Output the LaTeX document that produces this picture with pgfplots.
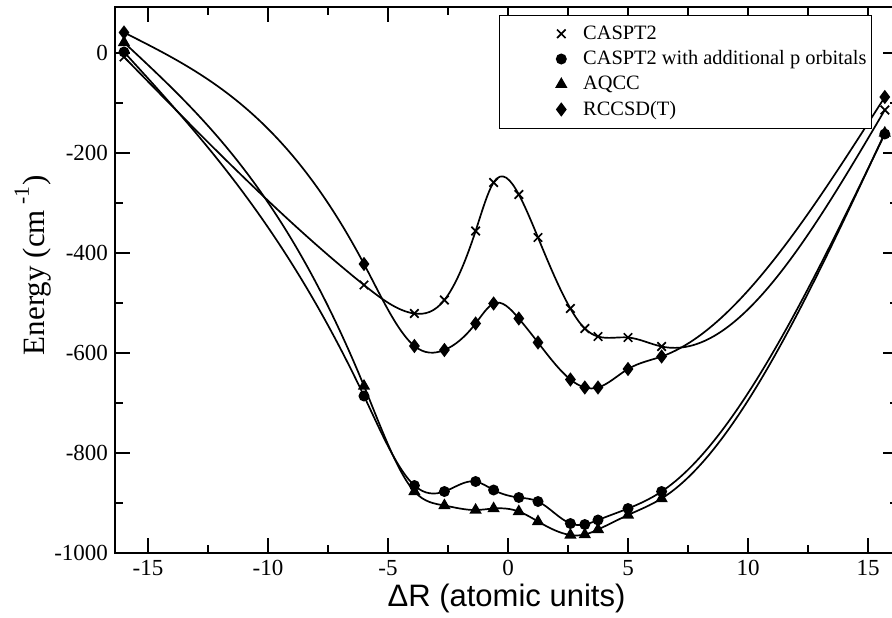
\documentclass[border=0pt]{standalone}
\usepackage{fontspec}
\setmainfont{Liberation Serif}
\newfontfamily\labelsans{Liberation Sans}
\usepackage{pgfplots}
\pgfplotsset{compat=1.18}

% natural cubic spline through the plotted points (like the original spline curves)
\makeatletter
\newcount\nsp@n \newcount\nsp@i \newcount\nsp@im \newcount\nsp@ip \newcount\nsp@last
\def\nsp@v#1#2{\csname nsp@#1@\number#2\endcsname}
\def\nsp@set#1#2#3{\expandafter\xdef\csname nsp@#1@\number#2\endcsname{#3}}
\def\pgfplothandlernatspline{%
  \def\pgf@plotstreamstart{%
    \global\nsp@n=0\relax
    \global\let\pgf@plotstreampoint=\nsp@point
    \global\let\pgf@plotstreamspecial=\pgfutil@gobble
    \global\let\pgf@plotstreamend=\nsp@end
  }%
}
\def\nsp@point#1{%
  \pgf@process{#1}%
  \nsp@set{x}{\nsp@n}{\pgf@sys@tonumber\pgf@x}%
  \nsp@set{y}{\nsp@n}{\pgf@sys@tonumber\pgf@y}%
  \global\advance\nsp@n by 1\relax
}
\def\nsp@end{%
  \ifnum\nsp@n>2\relax
    \nsp@spline
  \else
    \pgfpathmoveto{\pgfqpoint{\nsp@v{x}{0}pt}{\nsp@v{y}{0}pt}}%
    \ifnum\nsp@n>1\relax
      \pgfpathlineto{\pgfqpoint{\nsp@v{x}{1}pt}{\nsp@v{y}{1}pt}}%
    \fi
  \fi
}
\def\nsp@secants{%
  \nsp@ip=\nsp@i \advance\nsp@ip by 1\relax
  \pgfmathsetmacro\nsp@t{(\nsp@v{x}{\nsp@ip})-(\nsp@v{x}{\nsp@i})}%
  \nsp@set{h}{\nsp@i}{\nsp@t}%
  \pgfmathsetmacro\nsp@t{((\nsp@v{y}{\nsp@ip})-(\nsp@v{y}{\nsp@i}))/(\nsp@v{h}{\nsp@i})}%
  \nsp@set{d}{\nsp@i}{\nsp@t}%
  \advance\nsp@i by 1\relax
  \ifnum\nsp@i<\nsp@last\relax\expandafter\nsp@secants\fi
}
\def\nsp@forward{%
  \nsp@im=\nsp@i \advance\nsp@im by -1\relax
  \pgfmathsetmacro\nsp@den{2*((\nsp@v{h}{\nsp@im})+(\nsp@v{h}{\nsp@i}))-(\nsp@v{h}{\nsp@im})*(\nsp@v{cp}{\nsp@im})}%
  \pgfmathsetmacro\nsp@t{(\nsp@v{h}{\nsp@i})/(\nsp@den)}%
  \nsp@set{cp}{\nsp@i}{\nsp@t}%
  \pgfmathsetmacro\nsp@t{(6*((\nsp@v{d}{\nsp@i})-(\nsp@v{d}{\nsp@im}))-(\nsp@v{h}{\nsp@im})*(\nsp@v{rp}{\nsp@im}))/(\nsp@den)}%
  \nsp@set{rp}{\nsp@i}{\nsp@t}%
  \advance\nsp@i by 1\relax
  \ifnum\nsp@i<\nsp@last\relax\expandafter\nsp@forward\fi
}
\def\nsp@back{%
  \nsp@ip=\nsp@i \advance\nsp@ip by 1\relax
  \pgfmathsetmacro\nsp@t{(\nsp@v{rp}{\nsp@i})-(\nsp@v{cp}{\nsp@i})*(\nsp@v{M}{\nsp@ip})}%
  \nsp@set{M}{\nsp@i}{\nsp@t}%
  \advance\nsp@i by -1\relax
  \ifnum\nsp@i>0\relax\expandafter\nsp@back\fi
}
\def\nsp@segments{%
  \nsp@ip=\nsp@i \advance\nsp@ip by 1\relax
  \edef\nsp@h{\nsp@v{h}{\nsp@i}}\edef\nsp@d{\nsp@v{d}{\nsp@i}}%
  \edef\nsp@Ma{\nsp@v{M}{\nsp@i}}\edef\nsp@Mb{\nsp@v{M}{\nsp@ip}}%
  \pgfmathsetmacro\nsp@ax{(\nsp@v{x}{\nsp@i})+(\nsp@h)/3}%
  \pgfmathsetmacro\nsp@ay{(\nsp@v{y}{\nsp@i})+(\nsp@h)*(\nsp@d)/3-(\nsp@h)*((\nsp@h)*(2*(\nsp@Ma)+(\nsp@Mb))/18)}%
  \pgfmathsetmacro\nsp@bx{(\nsp@v{x}{\nsp@ip})-(\nsp@h)/3}%
  \pgfmathsetmacro\nsp@by{(\nsp@v{y}{\nsp@ip})-(\nsp@h)*(\nsp@d)/3-(\nsp@h)*((\nsp@h)*((\nsp@Ma)+2*(\nsp@Mb))/18)}%
  \pgfpathcurveto{\pgfqpoint{\nsp@ax pt}{\nsp@ay pt}}{\pgfqpoint{\nsp@bx pt}{\nsp@by pt}}%
    {\pgfqpoint{\nsp@v{x}{\nsp@ip}pt}{\nsp@v{y}{\nsp@ip}pt}}%
  \advance\nsp@i by 1\relax
  \ifnum\nsp@i<\nsp@last\relax\expandafter\nsp@segments\fi
}
\def\nsp@spline{%
  \nsp@last=\nsp@n \advance\nsp@last by -1\relax
  \nsp@i=0\relax \nsp@secants
  \nsp@set{cp}{0}{0}\nsp@set{rp}{0}{0}%
  \nsp@i=1\relax \nsp@forward
  \nsp@set{M}{0}{0}\nsp@set{M}{\nsp@last}{0}%
  \nsp@i=\nsp@last \advance\nsp@i by -1\relax \nsp@back
  \pgfpathmoveto{\pgfqpoint{\nsp@v{x}{0}pt}{\nsp@v{y}{0}pt}}%
  \nsp@i=0\relax \nsp@segments
}
\tikzset{natural spline/.code={\let\tikz@plot@handler=\pgfplothandlernatspline}}
\makeatother

\begin{document}
\begin{tikzpicture}
\useasboundingbox (-57.5pt,-32pt) rectangle (388.5pt,276.5pt);
\clip (-57.5pt,-32pt) rectangle (388.5pt,276.5pt);
\begin{axis}[
  scale only axis,
  width=391.5pt, height=273pt,
  at={(0,0)}, anchor=south west,
  xmin=-16.375, xmax=16.25,
  ymin=-1000, ymax=92,
  xtick={-15,-10,...,15},
  ytick={-1000,-800,...,0},
  minor x tick num=1,
  minor y tick num=1,
  tick align=inside,
  major tick length=7.5pt,
  minor tick length=3.8pt,
  axis line style={line width=0.8pt},
  every tick/.style={black, line width=0.8pt},
  tick label style={font=\fontsize{11.5}{13}\selectfont},
  /pgf/number format/assume math mode=true,
  /pgf/number format/1000 sep={},
  xlabel={\labelsans ΔR (atomic units)},
  xlabel style={font=\fontsize{15.5}{18}\selectfont, at={(axis description cs:0.5,-0.0824)}, anchor=center},
  ylabel={Energy (cm\,\raisebox{0.35ex}{\textsuperscript{-1}})},
  ylabel style={font=\fontsize{15.5}{18}\selectfont, at={(axis description cs:-0.105,0.527)}, anchor=center},
  legend cell align=left,
  legend image code/.code={\path (-30pt,0pt); \draw[#1, only marks] plot coordinates {(0pt,0pt)};},
  legend style={at={(0.9668,0.9853)}, anchor=north east, draw=black, line width=0.5pt,
    font=\fontsize{10.2}{12}\selectfont, row sep=0.2pt, inner xsep=0.5pt, inner ysep=3pt,
    /tikz/every odd column/.append style={column sep=6.6pt}},
  every axis plot/.append style={black, line width=0.85pt, natural spline, mark options={solid, fill=black}},
]
\addplot[mark=x, mark size=3pt] coordinates {
  (-16,-8) (-6,-464) (-3.9,-521) (-2.65,-494) (-1.35,-356) (-0.6,-259) (0.45,-283)
  (1.25,-369) (2.6,-511) (3.2,-551) (3.75,-567) (5.0,-569) (6.4,-587) (15.7,-114)
};
\addlegendentry{CASPT2}
\addplot[mark=*, mark size=2.3pt] coordinates {
  (-16,2) (-6,-686) (-3.9,-865) (-2.65,-877) (-1.35,-857) (-0.6,-874) (0.45,-889)
  (1.25,-897) (2.6,-941) (3.2,-943) (3.75,-934) (5.0,-911) (6.4,-877) (15.7,-162)
};
\addlegendentry{CASPT2 with additional p orbitals}
\addplot[mark=triangle*, mark size=2.7pt] coordinates {
  (-16,21) (-6,-666) (-3.9,-877) (-2.65,-905) (-1.35,-914) (-0.6,-911) (0.45,-917)
  (1.25,-937) (2.6,-964) (3.2,-963) (3.75,-953) (5.0,-924) (6.4,-891) (15.7,-160)
};
\addlegendentry{AQCC}
\addplot[mark=diamond*, mark size=2.9pt] coordinates {
  (-16,41) (-6,-422) (-3.9,-586) (-2.65,-594) (-1.35,-541) (-0.6,-501) (0.45,-531)
  (1.25,-579) (2.6,-653) (3.2,-669) (3.75,-669) (5.0,-632) (6.4,-607) (15.7,-88)
};
\addlegendentry{RCCSD(T)}
\end{axis}
\end{tikzpicture}
\end{document}
